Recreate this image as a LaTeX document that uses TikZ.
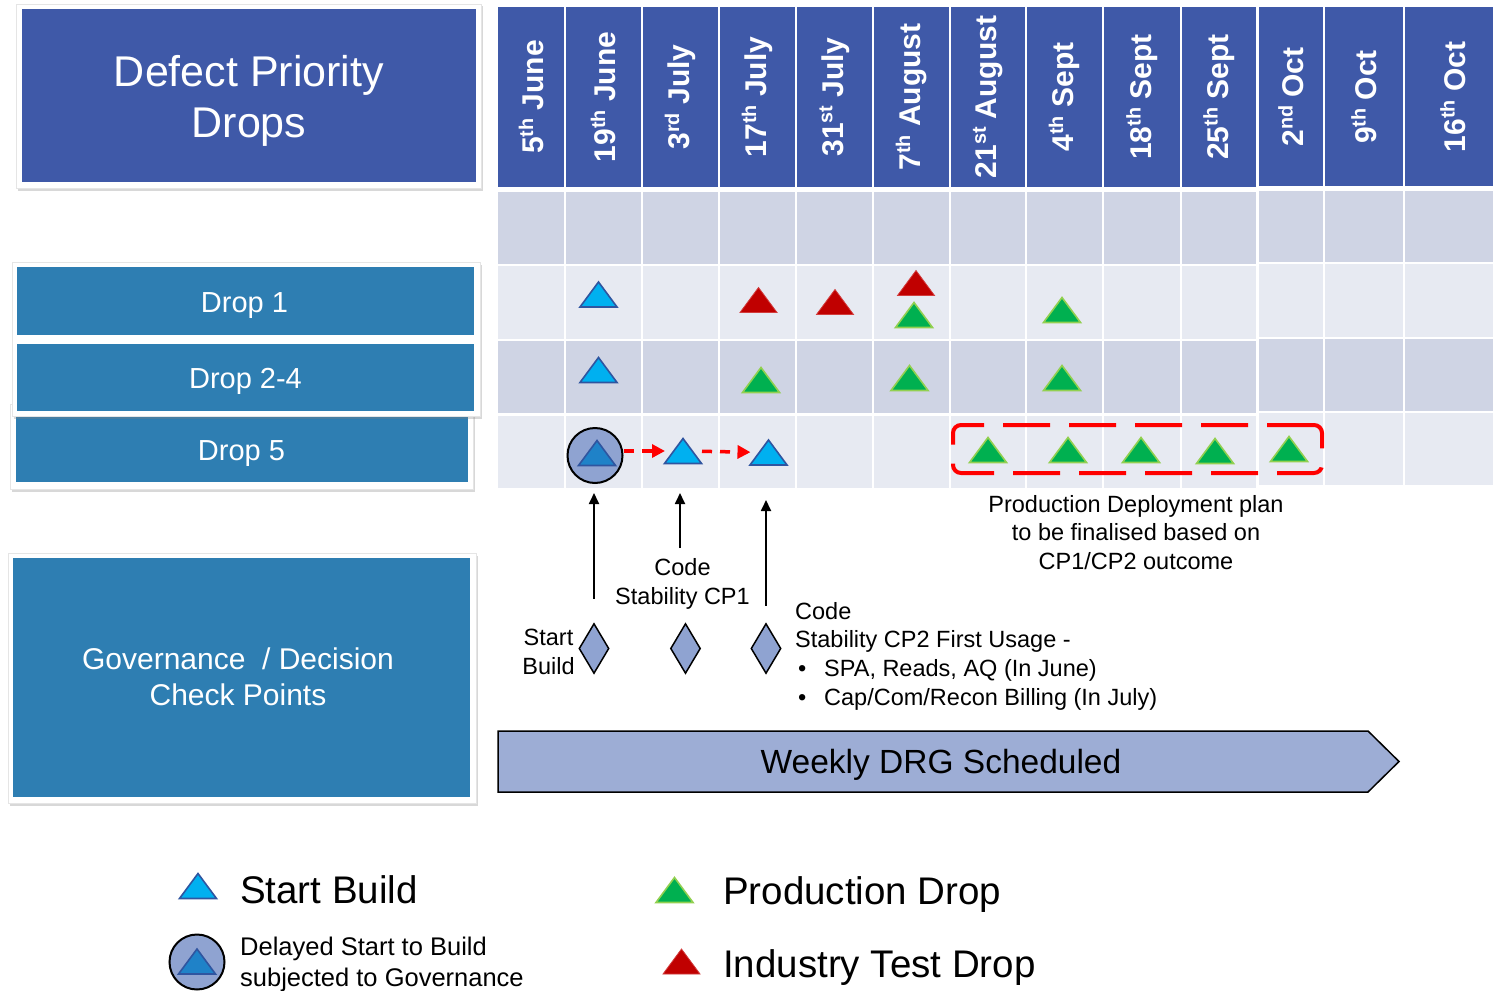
\documentclass[tikz,border=0pt]{standalone}
\usepackage{fontspec}
\setmainfont{Liberation Sans}
\usetikzlibrary{arrows.meta,shadows,shapes.geometric}

\definecolor{hdrblue}{RGB}{63,89,168}
\definecolor{dropblue}{RGB}{46,126,178}
\definecolor{celldark}{RGB}{207,212,228}
\definecolor{celllight}{RGB}{231,234,242}
\definecolor{sbfill}{RGB}{0,176,240}
\definecolor{sbline}{RGB}{47,85,160}
\definecolor{itfill}{RGB}{192,0,0}
\definecolor{itedge}{RGB}{210,60,60}
\definecolor{pdfill}{RGB}{0,176,80}
\definecolor{pdline}{RGB}{146,208,80}
\definecolor{lav}{RGB}{143,163,209}
\definecolor{lavlight}{RGB}{157,173,213}
\definecolor{delaytri}{RGB}{31,130,200}

% font size helper
\newcommand\fsz[2]{\fontsize{#1}{#2}\selectfont}
% ordinal suffix
\newcommand\sps[1]{\raisebox{.36em}{\scalebox{.66}{#1}}}
% triangle marker: name, x, y, style
\newcommand\mk[4]{%
  \coordinate (#1) at (#2,#3);
  \path[#4] (#1) ++(-18.5,12.5) -- ++(37,0) -- ++(-18.5,-25) -- cycle;}

\begin{document}
\begin{tikzpicture}[x=1pt,y=-1pt,
  every node/.style={inner sep=0pt},
  frame/.style={fill=white, draw=black!10, line width=0.5pt,
    drop shadow={opacity=0.3, shadow xshift=1.5pt, shadow yshift=-2.5pt}},
  navybox/.style={fill=hdrblue},
  tealbox/.style={fill=dropblue},
  hdrcell/.style={fill=hdrblue, draw=white, line width=2.5pt},
  celld/.style={fill=celldark, draw=white, line width=2.5pt},
  celll/.style={fill=celllight, draw=white, line width=2.5pt},
  hdrtext/.style={rotate=90, text=white, font=\bfseries\fsz{30}{36}},
  boxtext/.style={text=white, align=center},
  note/.style={font=\fsz{23.5}{29}},
  legendtext/.style={font=\fsz{38.5}{46}},
  sbtri/.style={fill=sbfill, draw=sbline, line width=1.6pt},
  pdtri/.style={fill=pdfill, draw=pdline, line width=1.6pt},
  ittri/.style={fill=itfill, draw=itedge, line width=0.8pt},
  dlytri/.style={fill=delaytri, draw=sbline, line width=1.6pt},
  govmark/.style={diamond, aspect=0.6, minimum width=30pt, minimum height=50pt,
    fill=lav, draw=black, line width=1.5pt},
  delay/.style={circle, minimum size=55pt, fill=lav, draw=black, line width=2pt},
  uparrow/.style={draw=black, line width=1.8pt, -{Triangle[length=11pt,width=10pt]}},
  slip/.style={draw=red, line width=3.5pt, dash pattern=on 10pt off 8pt,
    -{Triangle[length=13pt,width=13pt]}},
  planbox/.style={draw=red, line width=4pt, dash pattern=on 47pt off 19pt, rounded corners=8pt},
  drgshape/.style={fill=lavlight, draw=black, line width=1.5pt},
]
\useasboundingbox (0,0) rectangle (1493,990);
\fill[white] (0,0) rectangle (1493,990);

% ---------- row labels on the left ----------
\node[frame, minimum width=465pt, minimum height=184pt] (fdpd) at (248.5,96) {};
\node[navybox, minimum width=454pt, minimum height=173pt] (dpd) at (249,95.5) {};
\node[boxtext, anchor=north, font=\fsz{43}{51}] (dpdlbl) at (249,54.7) {Defect Priority\\Drops};

\node[frame, minimum width=463pt, minimum height=85pt] (fd5) at (241.5,446.5) {};
\node[tealbox, minimum width=452pt, minimum height=74pt] (d5) at (242,445) {};
\node[frame, minimum width=468pt, minimum height=154pt] (fd14) at (246,339) {};
\node[tealbox, minimum width=457pt, minimum height=68pt] (d1) at (245.5,301) {};
\node[tealbox, minimum width=457pt, minimum height=67pt] (d24) at (245.5,377.5) {};
\node[text=white, anchor=base, font=\fsz{29}{35}] (d1lbl) at (244.5,312.5) {Drop 1};
\node[text=white, anchor=base, font=\fsz{29}{35}] (d24lbl) at (245.5,388) {Drop 2-4};
\node[text=white, anchor=base, font=\fsz{29}{35}] (d5lbl) at (241.5,460.5) {Drop 5};

\node[frame, minimum width=468pt, minimum height=250pt] (fgov) at (242,678) {};
\node[tealbox, minimum width=457pt, minimum height=239pt] (gov) at (241.5,677.5) {};
\node[boxtext, anchor=north, font=\fsz{30}{36}] (govlbl) at (238,648) {Governance\ \ / Decision\\Check Points};

% ---------- schedule grid ----------
\foreach \xa/\xb in {497/565,565/642,642/719,719/796,796/873,873/950,950/1026,1026/1103,1103/1181,1181/1257}{
  \path[hdrcell] (\xa,5.5) rectangle (\xb,188);
  \path[celld] (\xa,191) rectangle (\xb,265);
  \path[celll] (\xa,265) rectangle (\xb,340);
  \path[celld] (\xa,340) rectangle (\xb,414.5);
  \path[celll] (\xa,414.5) rectangle (\xb,489);
}
\foreach \xa/\xb in {1258/1324,1324/1404,1404/1496}{
  \path[hdrcell] (\xa,5.5) rectangle (\xb,187);
  \path[celld] (\xa,190) rectangle (\xb,263);
  \path[celll] (\xa,263) rectangle (\xb,338);
  \path[celld] (\xa,338) rectangle (\xb,412);
  \path[celll] (\xa,412) rectangle (\xb,486);
}
\foreach \x/\t [count=\i] in {531.5/{5\sps{th} June}, 603.5/{19\sps{th} June},
    680.5/{3\sps{rd} July}, 757.5/{17\sps{th} July}, 834.5/{31\sps{st} July},
    911.5/{7\sps{th} August}, 988/{21\sps{st} August}, 1064.5/{4\sps{th} Sept},
    1142/{18\sps{th} Sept}, 1219/{25\sps{th} Sept}, 1291/{2\sps{nd} Oct},
    1364/{9\sps{th} Oct}, 1453/{16\sps{th} Oct}}
  \node[hdrtext] (date\i) at (\x,97) {\t};

% ---------- drop markers ----------
% Drop 1
\mk{sb1}{598.5}{294.5}{sbtri}
\mk{it1}{758.5}{300}{ittri}
\mk{it2}{835}{302}{ittri}
\mk{it3}{916}{283}{ittri}
\mk{pd1}{914}{315}{pdtri}
\mk{pd2}{1062}{310}{pdtri}
% Drop 2-4
\mk{sb2}{598.5}{370}{sbtri}
\mk{pd3}{761}{380}{pdtri}
\mk{pd4}{909.5}{378}{pdtri}
\mk{pd5}{1062}{378}{pdtri}
% Drop 5
\node[delay] (dly) at (595,455.5) {};
\mk{dlyt}{597}{453}{dlytri}
\mk{sb4a}{683}{451}{sbtri}
\mk{sb4b}{768.5}{452.5}{sbtri}
\draw[slip, shorten >=18pt] (dly.east |- sb4a) -- (sb4a);
\draw[slip, shorten <=19pt, shorten >=18pt] (sb4a) -- (sb4b);
\node[planbox, minimum width=369pt, minimum height=48pt] (plan) at (1137.5,449) {};
\mk{pp1}{988}{450}{pdtri}
\mk{pp2}{1068}{450}{pdtri}
\mk{pp3}{1141}{450}{pdtri}
\mk{pp4}{1215}{451}{pdtri}
\mk{pp5}{1289}{449}{pdtri}

% ---------- check points ----------
\node[note, anchor=north, align=center, font=\fsz{23.5}{28.5}] (planlbl) at (1136,495)
  {Production Deployment plan\\to be finalised based on\\CP1/CP2 outcome};
\node[govmark] (g1) at (594,648.5) {};
\node[govmark] (g2) at (685.5,648.5) {};
\node[govmark] (g3) at (766,648.5) {};
\node[note, anchor=north, align=center] (sblbl) at (548.5,629) {Start\\Build};
\node[note, anchor=north, align=center] (cp1) at (682.5,558) {Code\\Stability CP1};
\node[note, anchor=north west, align=left, font=\fsz{23.5}{28.7}] (cp2) at (795,602)
  {Code\\Stability CP2 First Usage -\\
   \makebox[29pt][l]{\hspace{3pt}\textbullet}SPA, Reads, AQ (In June)\\
   \makebox[29pt][l]{\hspace{3pt}\textbullet}Cap/Com/Recon Billing (In July)};
\coordinate (a1) at (594,493);
\coordinate (a2) at (680,493);
\coordinate (a3) at (766,500);
\draw[uparrow, shorten <=24pt] (g1.north) -- (a1);
\draw[uparrow, shorten <=10pt] (cp1.north -| a2) -- (a2);
\draw[uparrow, shorten <=17pt] (g3.north) -- (a3);

% ---------- weekly DRG band ----------
\path[drgshape] (498,731) -- (1368,731) -- (1399,761.5) -- (1368,792) -- (498,792) -- cycle;
\node[anchor=base, font=\fsz{33.5}{40}] (drg) at (941,773) {Weekly DRG Scheduled};

% ---------- legend ----------
\mk{lgsb}{198}{886}{sbtri}
\node[legendtext, anchor=base west] (lgsbl) at (240,903) {Start Build};
\mk{lgpd}{674.5}{890}{pdtri}
\node[legendtext, anchor=base west] (lgpdl) at (723,904) {Production Drop};
\mk{lgit}{681.5}{961.5}{ittri}
\node[legendtext, anchor=base west] (lgitl) at (723,977) {Industry Test Drop};
\node[delay] (lgdly) at (197,962) {};
\mk{lgdlyt}{197}{961.5}{dlytri}
\node[anchor=north west, align=left, font=\fsz{25.5}{31}] (lgdlyl) at (240,936.5)
  {Delayed Start to Build\\subjected to Governance};
\end{tikzpicture}
\end{document}
